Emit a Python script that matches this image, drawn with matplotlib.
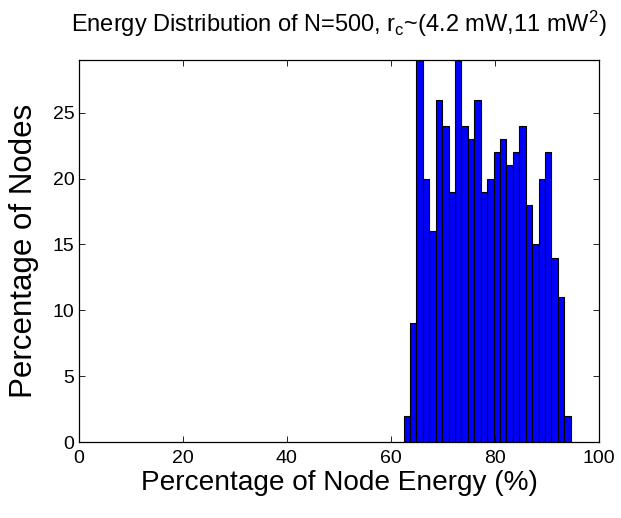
import matplotlib
matplotlib.use("Agg")
import matplotlib.pyplot as plt
import numpy as np

plt.rcParams['font.family'] = ['Liberation Sans', 'DejaVu Sans']
plt.rcParams['mathtext.fontset'] = 'custom'
plt.rcParams['mathtext.rm'] = 'Liberation Sans'
plt.rcParams['mathtext.it'] = 'Liberation Sans'

# Histogram of remaining node energy (node counts per bin)
bin_start = 62.4
bin_width = 1.235
counts = [2, 9, 29, 20, 16, 26, 24, 19, 29, 24, 23, 26, 19, 20, 22, 23,
          21, 22, 24, 18, 15, 20, 22, 14, 11, 2]
x_ticks = [0, 20, 40, 60, 80, 100]
y_ticks = [0, 5, 10, 15, 20, 25]

lefts = bin_start + bin_width * np.arange(len(counts))

fig = plt.figure(figsize=(6.21, 5.18), dpi=100)
ax = fig.add_axes([0.1267, 0.1467, 0.8383, 0.7373])

ax.bar(lefts, counts, width=bin_width, align='edge', color='#0000ff',
       edgecolor='black', linewidth=0.8)

ax.set_xlim(0, 100)
ax.set_ylim(0, 29)
ax.set_xticks(x_ticks)
ax.set_yticks(y_ticks)
ax.tick_params(direction='in', top=True, right=True, length=4, width=0.6,
               labelsize=14)
ax.tick_params(axis='x', pad=6)
ax.tick_params(axis='y', pad=3)
for s in ax.spines.values():
    s.set_linewidth(0.9)

ax.set_xlabel('Percentage of Node Energy (%)', fontsize=20.2, labelpad=2)
ax.set_ylabel('Percentage of Nodes', fontsize=22.5, labelpad=10)
ax.set_title('Energy Distribution of N=500, r$_\\mathrm{c}$~(4.2 mW,11 mW$^2$)',
             fontsize=17, pad=20)

fig.savefig('out.png', dpi=100)
